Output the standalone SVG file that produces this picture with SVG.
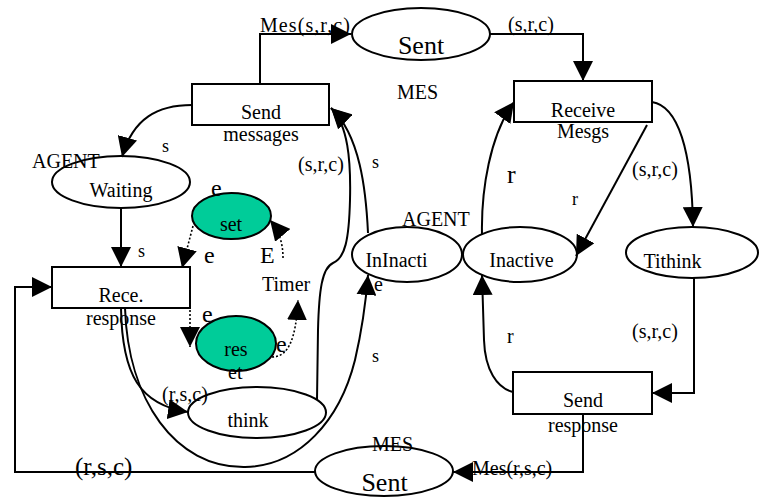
<svg xmlns="http://www.w3.org/2000/svg" width="763" height="497" viewBox="0 0 763 497">
<defs>
<marker id="ah" viewBox="0 0 20 20" refX="20" refY="10" markerWidth="20" markerHeight="20" markerUnits="userSpaceOnUse" orient="auto">
<path d="M0,0 L20,10 L0,20 z" fill="#000"/>
</marker>
</defs>
<style>
text{font-family:"Liberation Serif","Times New Roman",serif;font-size:20px;fill:#000}
.c{text-anchor:middle}
.big{font-size:26px}
.sm{font-size:18px}
.lg{font-size:24px}
.n{fill:#fff;stroke:#000;stroke-width:2}
.g{fill:#00CC99;stroke:#000;stroke-width:2}
.e{fill:none;stroke:#000;stroke-width:2}
.a{marker-end:url(#ah)}
.d{fill:none;stroke:#000;stroke-width:1.6;stroke-dasharray:2,2}
</style>
<rect width="763" height="497" fill="#fff"/>
<g id="sent-top"><ellipse class="n" cx="421" cy="34" rx="69" ry="26"/><text class="c big" x="421" y="54">Sent</text></g>
<g id="send-messages"><rect class="n" x="192" y="84" width="137" height="41"/><text class="c" x="261" y="119">Send</text><text class="c" x="261" y="141">messages</text></g>
<g id="receive-mesgs"><rect class="n" x="514" y="81" width="138" height="41"/><text class="c" x="583" y="117">Receive</text><text class="c" x="583" y="138">Mesgs</text></g>
<g id="waiting"><ellipse class="n" cx="121" cy="182" rx="69" ry="26"/><text class="c" x="121" y="197">Waiting</text></g>
<g id="rece-response"><rect class="n" x="52" y="267" width="138" height="41"/><text class="c" x="121" y="302">Rece.</text><text class="c" x="121" y="325">response</text></g>
<g id="set"><ellipse class="g" cx="231.5" cy="216" rx="39.5" ry="23"/><text class="c" x="231" y="231">set</text></g>
<g id="res"><ellipse class="g" cx="236" cy="343.5" rx="40" ry="27.5"/><text class="c" x="236" y="356">res</text></g>
<g id="think"><ellipse class="n" cx="257" cy="412.5" rx="69" ry="25.5"/><text class="c" x="248" y="427">think</text></g>
<g id="ininacti"><ellipse class="n" cx="407" cy="254.5" rx="55" ry="27.5"/><text class="c" x="396.5" y="267">InInacti</text></g>
<g id="inactive"><ellipse class="n" cx="520" cy="254.5" rx="57" ry="27.5"/><text class="c" x="521.5" y="267">Inactive</text></g>
<g id="tithink"><ellipse class="n" cx="692" cy="252.5" rx="66" ry="25.5"/><text class="c" x="672.5" y="268">Tithink</text></g>
<g id="send-response"><rect class="n" x="513" y="372" width="139" height="42"/><text class="c" x="583" y="407">Send</text><text class="c" x="583" y="432">response</text></g>
<g id="sent-bottom"><ellipse class="n" cx="384" cy="471" rx="69" ry="25"/><text class="c big" x="384.5" y="491">Sent</text></g>
<g id="connectors">
<path class="e a" d="M260,84 L260,34 L351,34"/>
<path class="e a" d="M490,34 L583,34 L583,81"/>
<path class="e a" d="M192,105 C158,105 133,118 122,157"/>
<path class="e a" d="M121,208 L121,267"/>
<path class="e a" d="M315,472 L15,472 L15,287 L52,287"/>
<path class="e a" d="M121,308 C122,375 140,405 188,412"/>
<path class="e a" d="M125,308 C128,400 175,468 245,467 C300,466 340,420 355,360 C362,330 366,300 368,275"/>
<path class="e a" d="M317,400 L318,330 C319,290 322,268 333,263 C345,258 349,240 350,200 C351,160 348,125 331,108"/>
<path class="e a" d="M368,233 C366,190 360,135 331,108"/>
<path class="e a" d="M482,235 C481,190 490,135 514,102"/>
<path class="e a" d="M647,125 L576,256"/>
<path class="e a" d="M652,102 C678,106 692,150 693,227"/>
<path class="e a" d="M694,278 L694,393 L652,393"/>
<path class="e a" d="M513,392 C497,388 485,370 484,340 L482,275"/>
<path class="e a" d="M583,414 L583,472 L453,472"/>
<path class="d a" d="M193,226 L182,268"/>
<path class="d a" d="M283,258 C283,245 280,232 270,220"/>
<path class="d a" d="M190,290 L190,347"/>
<path class="d a" d="M272,357 C288,357 296,340 298,300"/>
</g>
<g id="labels">
<text x="260" y="32" textLength="90">Mes(s,r,c)</text>
<text x="508" y="31">(s,r,c)</text>
<text x="397" y="99">MES</text>
<text class="sm" x="162" y="152">s</text>
<text x="32" y="168">AGENT</text>
<text x="298" y="171">(s,r,c)</text>
<text class="sm" x="372" y="168">s</text>
<text class="big" x="507" y="183">r</text>
<text class="sm" x="572" y="205">r</text>
<text x="632" y="176">(s,r,c)</text>
<text x="402" y="226">AGENT</text>
<text class="sm" x="138" y="257">s</text>
<text class="lg" x="211" y="196">e</text>
<text class="lg" x="204" y="263">e</text>
<text class="lg" x="260" y="263">E</text>
<text x="262" y="291">Timer</text>
<text x="374" y="291">e</text>
<text class="lg" x="202" y="322">e</text>
<text class="lg" x="276" y="352">e</text>
<text x="228" y="379">et</text>
<text x="162" y="401">(r,s,c)</text>
<text class="sm" x="372" y="362">s</text>
<text x="632" y="338">(s,r,c)</text>
<text x="507" y="343">r</text>
<text x="372" y="451">MES</text>
<text x="472" y="475">Mes(r,s,c)</text>
<text style="font-size:25px" x="75" y="475">(r,s,c)</text>
</g>
</svg>
